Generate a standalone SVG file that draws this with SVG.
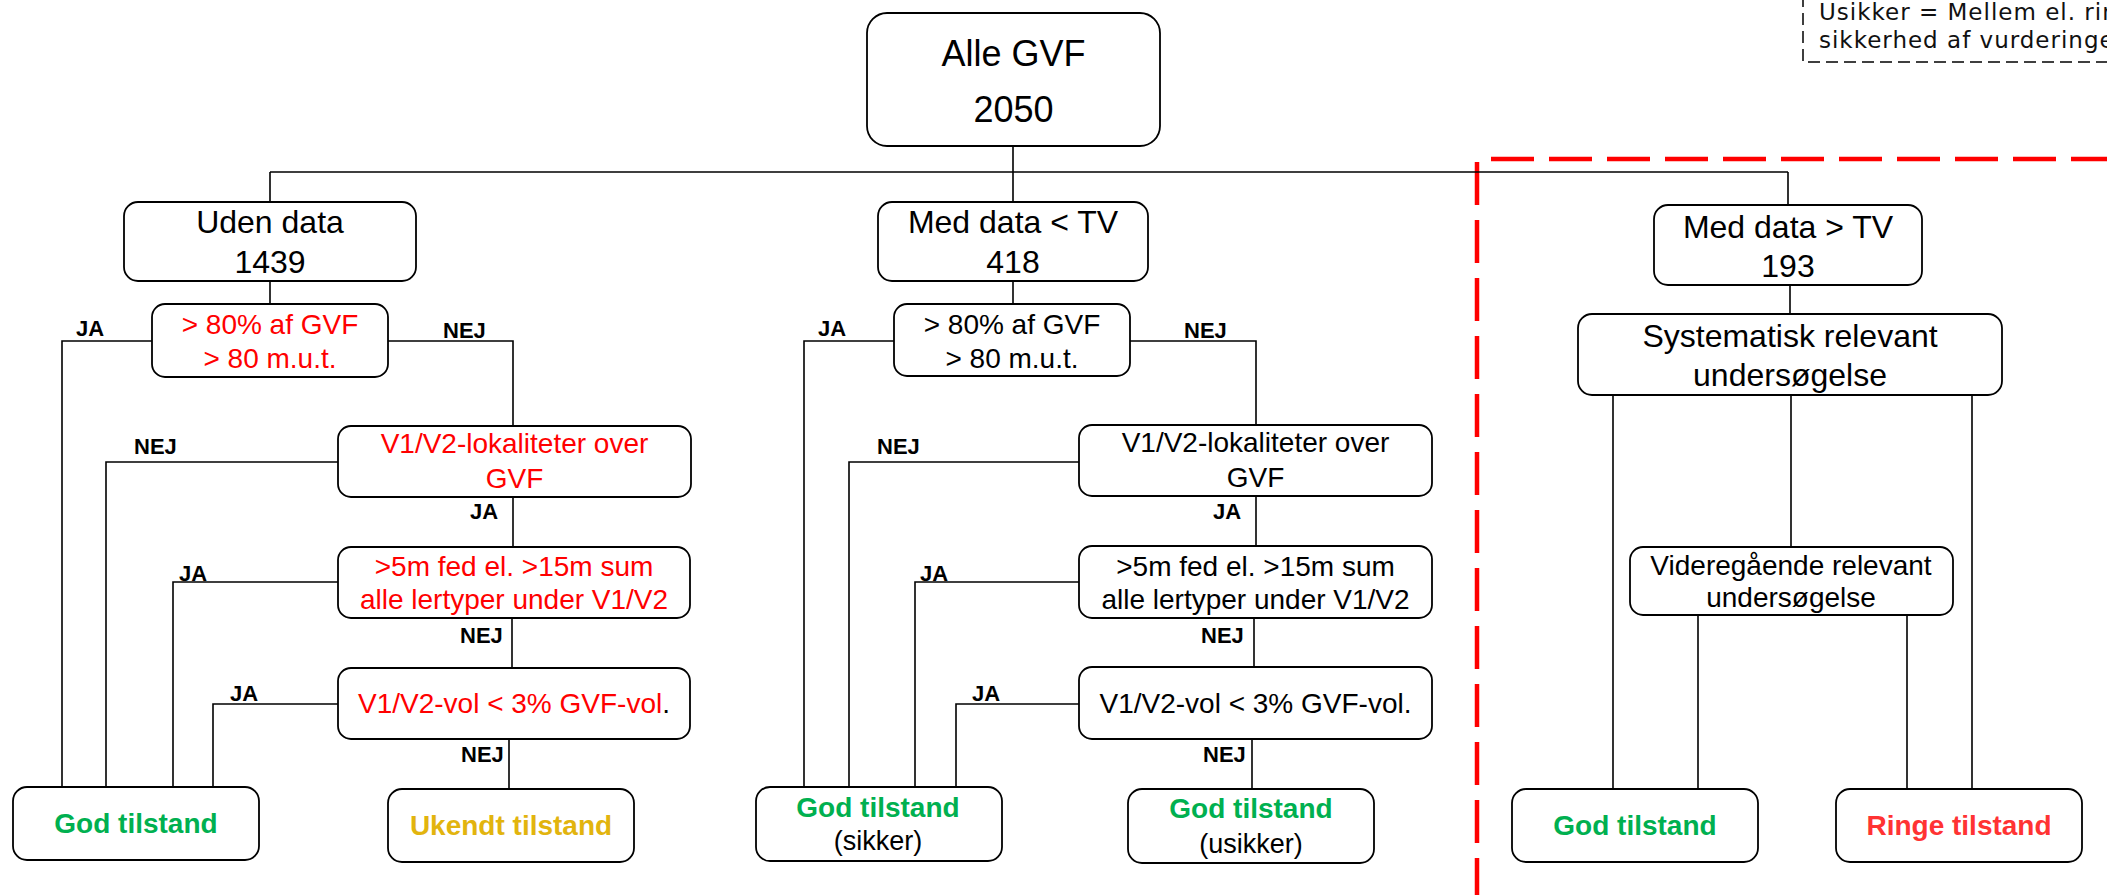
<svg xmlns="http://www.w3.org/2000/svg" width="2107" height="895" viewBox="0 0 2107 895">
<style>
.box{fill:#fff;stroke:#000;stroke-width:1.8}
.ln{fill:none;stroke:#000;stroke-width:1.6}
.t{font-family:"Liberation Sans",Arial,sans-serif;text-anchor:middle;fill:#000}
.big{font-size:36px}
.ttl{font-size:32px}
.c{font-size:28px}
.red{fill:#ff0000}
.lbl{font-family:"Liberation Sans",Arial,sans-serif;font-size:22px;font-weight:bold;fill:#000}
.out{font-size:28px;font-weight:bold}
.g{fill:#00b050}
.y{fill:#e2b40e}
.r{fill:#ff3333}
.sub{font-size:27px}
.reddash{fill:none;stroke:#ff0000;stroke-width:4.5;stroke-dasharray:43 15}
.leg{fill:none;stroke:#000;stroke-width:1.5;stroke-dasharray:12 6}
.legt{font-family:"DejaVu Sans",Verdana,sans-serif;font-size:23px;letter-spacing:1px;fill:#111}
</style>

<g id="legend">
<path class="leg" d="M1803,-5 V62 H2110"/>
<text class="legt" x="1819" y="20">Usikker = Mellem el. ringe</text>
<text class="legt" x="1819" y="48">sikkerhed af vurderingen</text>
</g>

<g id="region">
<line class="reddash" x1="1477" y1="162" x2="1477" y2="900"/>
<line class="reddash" x1="1491" y1="159" x2="2110" y2="159"/>
</g>

<g id="connectors">
<path class="ln" d="M1013,146 V172 M270,172 H1788 M270,172 V202 M1013,172 V202 M1788,172 V205"/>
<path class="ln" d="M270,281 V304"/>
<path class="ln" d="M152,341 H62 V787"/>
<path class="ln" d="M388,341 H513 V426"/>
<path class="ln" d="M338,462 H106 V787"/>
<path class="ln" d="M513,497 V547"/>
<path class="ln" d="M338,582 H173 V787"/>
<path class="ln" d="M512,618 V668"/>
<path class="ln" d="M338,704 H213 V787"/>
<path class="ln" d="M509,739 V789"/>
<path class="ln" d="M1013,281 V304"/>
<path class="ln" d="M894,341 H804 V787"/>
<path class="ln" d="M1130,341 H1256 V425"/>
<path class="ln" d="M1079,462 H849 V787"/>
<path class="ln" d="M1256,496 V546"/>
<path class="ln" d="M1079,582 H915 V787"/>
<path class="ln" d="M1254,618 V667"/>
<path class="ln" d="M1079,704 H956 V787"/>
<path class="ln" d="M1252,739 V789"/>
<path class="ln" d="M1790,285 V314"/>
<path class="ln" d="M1613,395 V789 M1791,395 V547 M1972,395 V789"/>
<path class="ln" d="M1698,615 V789 M1907,615 V789"/>
<text class="lbl" x="76" y="336">JA</text>
<text class="lbl" x="443" y="338">NEJ</text>
<text class="lbl" x="134" y="454">NEJ</text>
<text class="lbl" x="470" y="519">JA</text>
<text class="lbl" x="179" y="581">JA</text>
<text class="lbl" x="460" y="643">NEJ</text>
<text class="lbl" x="230" y="701">JA</text>
<text class="lbl" x="461" y="762">NEJ</text>
<text class="lbl" x="818" y="336">JA</text>
<text class="lbl" x="1184" y="338">NEJ</text>
<text class="lbl" x="877" y="454">NEJ</text>
<text class="lbl" x="1213" y="519">JA</text>
<text class="lbl" x="920" y="581">JA</text>
<text class="lbl" x="1201" y="643">NEJ</text>
<text class="lbl" x="972" y="701">JA</text>
<text class="lbl" x="1203" y="762">NEJ</text>
</g>

<g id="alle">
<rect class="box" x="867" y="13" width="293" height="133" rx="20"/>
<text class="t big" x="1013.5" y="66">Alle GVF</text>
<text class="t big" x="1013.5" y="122">2050</text>
</g>

<g id="uden">
<rect class="box" x="124" y="202" width="292" height="79" rx="14"/>
<text class="t ttl" x="270" y="233">Uden data</text>
<text class="t ttl" x="270" y="273">1439</text>
</g>
<g id="l-cond1">
<rect class="box" x="152" y="304" width="236" height="73" rx="13"/>
<text class="t c red" x="270" y="334">&gt; 80% af GVF</text>
<text class="t c red" x="270" y="368">&gt; 80 m.u.t.</text>
</g>
<g id="l-cond2">
<rect class="box" x="338" y="426" width="353" height="71" rx="13"/>
<text class="t c red" x="514.5" y="453">V1/V2-lokaliteter over</text>
<text class="t c red" x="514.5" y="488">GVF</text>
</g>
<g id="l-cond3">
<rect class="box" x="338" y="547" width="352" height="71" rx="13"/>
<text class="t c red" x="514" y="576">&gt;5m fed el. &gt;15m sum</text>
<text class="t c red" x="514" y="609">alle lertyper under V1/V2</text>
</g>
<g id="l-cond4">
<rect class="box" x="338" y="668" width="352" height="71" rx="13"/>
<text class="t c" x="514" y="713"><tspan class="red">V1/V2-vol &lt; 3% GVF-vol</tspan>.</text>
</g>
<g id="l-god">
<rect class="box" x="13" y="787" width="246" height="73" rx="14"/>
<text class="t out g" x="136" y="833">God tilstand</text>
</g>
<g id="l-ukendt">
<rect class="box" x="388" y="789" width="246" height="73" rx="14"/>
<text class="t out y" x="511" y="835">Ukendt tilstand</text>
</g>

<g id="med-lt">
<rect class="box" x="878" y="202" width="270" height="79" rx="14"/>
<text class="t ttl" x="1013" y="233">Med data &lt; TV</text>
<text class="t ttl" x="1013" y="273">418</text>
</g>
<g id="m-cond1">
<rect class="box" x="894" y="304" width="236" height="72" rx="13"/>
<text class="t c" x="1012" y="334">&gt; 80% af GVF</text>
<text class="t c" x="1012" y="368">&gt; 80 m.u.t.</text>
</g>
<g id="m-cond2">
<rect class="box" x="1079" y="425" width="353" height="71" rx="13"/>
<text class="t c" x="1255.5" y="452">V1/V2-lokaliteter over</text>
<text class="t c" x="1255.5" y="487">GVF</text>
</g>
<g id="m-cond3">
<rect class="box" x="1079" y="546" width="353" height="72" rx="13"/>
<text class="t c" x="1255.5" y="576">&gt;5m fed el. &gt;15m sum</text>
<text class="t c" x="1255.5" y="609">alle lertyper under V1/V2</text>
</g>
<g id="m-cond4">
<rect class="box" x="1079" y="667" width="353" height="72" rx="13"/>
<text class="t c" x="1255.5" y="713">V1/V2-vol &lt; 3% GVF-vol.</text>
</g>
<g id="m-god-sikker">
<rect class="box" x="756" y="787" width="246" height="74" rx="14"/>
<text class="t out g" x="878" y="817">God tilstand</text>
<text class="t sub" x="878" y="850">(sikker)</text>
</g>
<g id="m-god-usikker">
<rect class="box" x="1128" y="789" width="246" height="74" rx="14"/>
<text class="t out g" x="1251" y="818">God tilstand</text>
<text class="t sub" x="1251" y="853">(usikker)</text>
</g>

<g id="med-gt">
<rect class="box" x="1654" y="205" width="268" height="80" rx="14"/>
<text class="t ttl" x="1788" y="238">Med data &gt; TV</text>
<text class="t ttl" x="1788" y="277">193</text>
</g>
<g id="r-syst">
<rect class="box" x="1578" y="314" width="424" height="81" rx="14"/>
<text class="t ttl" x="1790" y="347">Systematisk relevant</text>
<text class="t ttl" x="1790" y="386">undersøgelse</text>
</g>
<g id="r-vid">
<rect class="box" x="1630" y="547" width="323" height="68" rx="13"/>
<text class="t c" x="1791" y="575">Videregående relevant</text>
<text class="t c" x="1791" y="607">undersøgelse</text>
</g>
<g id="r-god">
<rect class="box" x="1512" y="789" width="246" height="73" rx="14"/>
<text class="t out g" x="1635" y="835">God tilstand</text>
</g>
<g id="r-ringe">
<rect class="box" x="1836" y="789" width="246" height="73" rx="14"/>
<text class="t out r" x="1959" y="835">Ringe tilstand</text>
</g>
</svg>
